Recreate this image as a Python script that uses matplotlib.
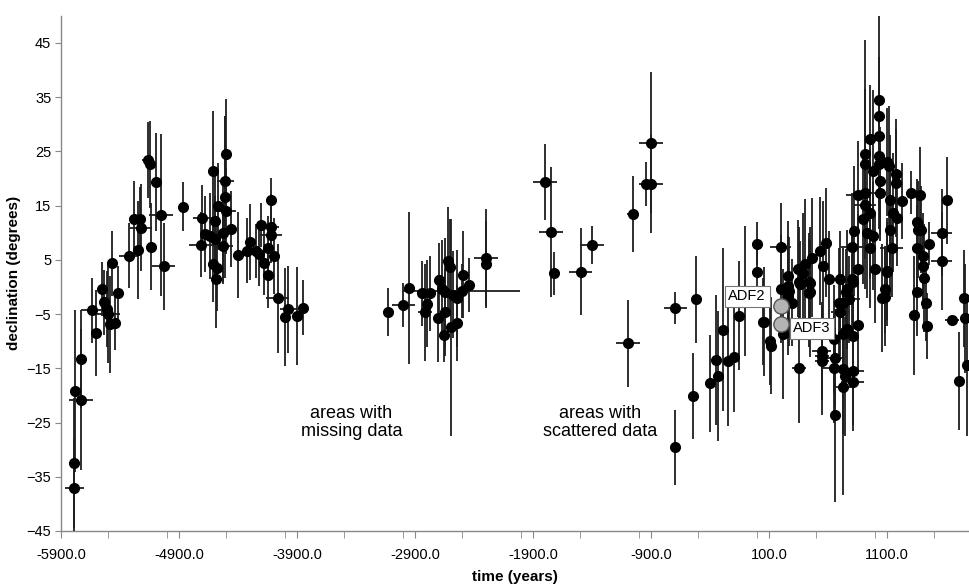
import numpy as np
import matplotlib.pyplot as plt
from matplotlib.ticker import MultipleLocator, FuncFormatter

plt.rcParams['font.family'] = ['Liberation Sans', 'DejaVu Sans']

# (year, declination, year error, declination error) per period
early_pts = [
    (-5787, -37.0, 80, 9), (-5787, -32.5, 0, 12), (-5779, -19.2, 0, 15),
    (-5730, -20.8, 100, 13), (-5730, -13.3, 0, 9), (-5640, -4.3, 90, 6),
    (-5603, -8.5, 0, 8), (-5550, -0.4, 0, 5), (-5533, -2.8, 0, 6),
    (-5510, -4.1, 0, 7), (-5499, -5.0, 100, 9), (-5485, -6.9, 0, 9),
    (-5470, 4.4, 0, 6), (-5440, -6.7, 30, 5), (-5420, -1.2, 0, 5),
    (-5321, 5.8, 85, 6), (-5284, 12.5, 0, 7), (-5233, 12.5, 40, 6),
    (-5222, 10.9, 90, 8), (-5250, 6.8, 0, 9), (-5160, 23.4, 50, 7),
    (-5148, 22.6, 0, 8), (-5097, 19.4, 0, 9), (-5053, 13.3, 100, 15),
    (-5137, 7.4, 0, 8), (-5030, 3.8, 100, 8), (-4866, 14.8, 0, 4.5),
]

neolithic_pts = [
    (-4716, 7.8, 100, 6), (-4703, 12.8, 80, 6), (-4680, 9.7, 0, 7),
    (-4637, 9.4, 0, 8), (-4609, 21.4, 0, 11), (-4595, 12.1, 0, 10),
    (-4595, 8.8, 0, 8), (-4609, 4.2, 0, 7), (-4586, 1.4, 0, 9),
    (-4580, 3.5, 60, 8), (-4567, 14.9, 0, 8), (-4525, 10.0, 0, 9),
    (-4525, 7.5, 85, 7), (-4508, 19.6, 70, 12), (-4508, 16.6, 0, 15),
    (-4502, 24.6, 0, 10), (-4502, 14.0, 85, 8), (-4462, 10.7, 0, 7),
    (-4397, 5.9, 0, 8), (-4298, 8.3, 0, 7), (-4321, 6.7, 0, 6),
    (-4250, 6.6, 0, 5), (-4222, 6.1, 0, 6), (-4205, 11.4, 0, 4),
    (-4120, 16.1, 0, 4), (-4120, 11.1, 70, 6), (-4120, 9.5, 90, 5),
    (-4148, 7.1, 0, 6), (-4092, 5.7, 0, 7), (-4177, 4.5, 0, 6),
    (-4148, 2.2, 0, 6), (-4064, -2.1, 100, 10), (-3974, -4.1, 70, 8),
    (-3999, -5.5, 0, 9), (-3903, -5.3, 0, 9), (-3847, -3.8, 0, 5),
]

bronze_pts = [
    (-3126, -4.6, 0, 4.5), (-2999, -3.3, 100, 4), (-2948, -0.2, 0, 14),
    (-2838, -1.2, 0, 6), (-2773, -1.2, 0, 7), (-2796, -3.1, 40, 8),
    (-2815, -4.7, 60, 9), (-2708, -5.8, 0, 8), (-2697, 1.2, 0, 7),
    (-2674, -0.4, 0, 9), (-2646, -1.0, 0, 10), (-2654, -8.9, 0, 5),
    (-2643, -4.7, 0, 8), (-2618, 4.7, 0, 10), (-2603, 3.6, 0, 9),
    (-2597, -7.4, 0, 20), (-2575, -1.4, 0, 8), (-2547, -6.7, 0, 7),
    (-2547, -2.1, 0, 9), (-2496, 2.3, 0, 8), (-2504, -0.7, 495, 5),
    (-2442, 0.3, 50, 5), (-2301, 5.4, 100, 9), (-2301, 4.2, 0, 8),
]

iron_pts = [
    (-1799, 19.3, 100, 7), (-1747, 10.1, 100, 12), (-1720, 2.5, 0, 4),
    (-1496, 2.8, 100, 8), (-1398, 7.7, 100, 3.5), (-1095, -10.4, 100, 8),
    (-1050, 13.5, 50, 7), (-945, 19.0, 0, 4), (-900, 19.0, 100, 9),
    (-900, 26.6, 100, 13), (-694, -3.9, 100, 3), (-694, -29.6, 0, 7),
    (-544, -20.1, 30, 8), (-519, -2.3, 0, 8), (-400, -17.8, 0, 9),
    (-346, -13.5, 30, 12), (-332, -16.4, 0, 12), (-287, -7.9, 0, 15),
    (-245, -13.6, 40, 12), (-197, -13.0, 0, 10),
]

historic_pts = [
    (-152, -5.3, 0, 10), (-104, -0.7, 0, 12), (-4, 8.0, 40, 4),
    (-4, 2.8, 40, 4), (52, -6.4, 0, 8), (58, -6.4, 40, 10),
    (108, -10.0, 0, 8), (114, -10.8, 0, 9), (199, 7.4, 90, 8),
    (199, -0.4, 0, 10), (221, -8.7, 0, 12), (264, 2.1, 0, 10),
    (264, 0.1, 0, 9), (264, -1.6, 0, 11), (271, -0.8, 0, 10),
    (292, -2.9, 0, 8), (348, 3.4, 0, 9), (350, 1.0, 0, 10),
    (357, -15.0, 60, 10), (362, 0.5, 0, 8), (390, 2.6, 0, 11),
    (405, 4.2, 0, 12), (441, 0.9, 0, 9), (441, -1.1, 0, 10),
    (448, 0.7, 0, 8), (448, -1.0, 0, 12), (462, 5.4, 0, 11),
    (532, 6.6, 0, 10), (547, -11.8, 80, 9), (547, -12.8, 60, 8),
    (547, -13.6, 60, 10), (555, 3.9, 0, 12), (580, 8.2, 0, 10),
    (611, 1.4, 0, 9), (651, -9.6, 0, 10), (651, -15.0, 90, 10),
    (657, -23.6, 0, 16), (657, -13.1, 80, 9), (696, -2.9, 0, 10),
    (702, 1.4, 80, 9), (702, -4.7, 80, 8), (724, -18.4, 80, 20),
    (724, -15.1, 0, 12), (730, -8.7, 0, 9), (730, -2.9, 0, 10),
    (744, -16.5, 0, 11), (750, -1.0, 0, 8), (758, -0.4, 0, 11),
    (760, -7.8, 60, 9), (780, -2.3, 90, 8), (800, 1.4, 60, 9),
    (806, 7.4, 100, 10), (808, 0.9, 0, 9), (809, -9.0, 0, 9),
    (809, -15.5, 100, 10), (809, -17.5, 100, 9), (820, 10.3, 0, 12),
    (851, 16.9, 100, 10), (851, 3.4, 0, 10), (851, -7.1, 0, 9),
    (899, 12.5, 0, 12), (914, 24.6, 0, 12), (914, 22.6, 0, 23),
    (914, 17.4, 100, 10), (914, 15.2, 90, 10), (928, 10.0, 0, 12),
    (956, 27.2, 0, 10), (956, 13.7, 0, 12), (956, 7.2, 0, 11),
    (984, 21.4, 0, 15), (984, 9.4, 0, 10), (998, 3.4, 0, 10),
    (1032, 34.4, 0, 17), (1032, 31.5, 0, 11), (1032, 27.9, 0, 10),
    (1032, 24.1, 0, 10), (1032, 22.7, 0, 12), (1041, 19.5, 0, 10),
    (1041, 17.4, 0, 9), (1055, -2.0, 0, 10), (1083, -0.4, 0, 8),
    (1083, -1.8, 0, 9), (1097, 23.0, 0, 10), (1097, 2.8, 0, 10),
    (1103, 3.0, 0, 9), (1114, 22.3, 0, 11), (1125, 16.1, 0, 12),
    (1125, 10.6, 0, 12), (1139, 7.2, 100, 9), (1153, 13.7, 0, 11),
    (1174, 20.9, 0, 10), (1174, 19.2, 0, 10), (1182, 12.8, 0, 9),
    (1225, 15.8, 0, 7), (1303, 17.4, 0, 4), (1331, -5.2, 0, 11),
    (1352, 12.0, 0, 8), (1352, 7.2, 0, 8), (1352, -1.0, 0, 8),
    (1365, 10.6, 0, 9), (1380, 16.9, 0, 9), (1390, 10.6, 0, 8),
    (1402, 5.7, 0, 8), (1402, 3.9, 0, 8), (1414, 1.7, 0, 10),
    (1431, -3.0, 0, 7), (1437, -7.2, 0, 6), (1456, 8.0, 30, 4),
    (1563, 10.0, 90, 8), (1563, 4.8, 90, 9), (1606, 16.0, 0, 8),
    (1653, -6.1, 60, 0), (1712, -17.3, 0, 9), (1752, -2.1, 0, 9),
    (1761, -5.8, 0, 10), (1775, -14.4, 0, 13),
]

# archaeomagnetic directions from the two studied structures
adf_names = ['ADF2', 'ADF3']
adf_years = [200, 200]
adf_decl = [-3.6, -6.9]

x_ticks = [-5900, -4900, -3900, -2900, -1900, -900, 100, 1100]
y_ticks = [-45, -35, -25, -15, -5, 5, 15, 25, 35, 45]

fig = plt.figure(figsize=(9.69, 5.88), dpi=100)
ax = fig.add_axes([0.063, 0.097, 0.937, 0.876])

for pts in (early_pts, neolithic_pts, bronze_pts, iron_pts, historic_pts):
    arr = np.array(pts, dtype=float)
    ax.errorbar(arr[:, 0], arr[:, 1], xerr=arr[:, 2], yerr=arr[:, 3],
                fmt='o', color='black', markersize=7, ecolor='#1e1e1e',
                elinewidth=1.3, capsize=0, zorder=3)

ax.plot(adf_years, adf_decl, 'o', markersize=11, markerfacecolor='#b4b4b4',
        markeredgecolor='#555555', markeredgewidth=1.0, zorder=5)
ax.text(-85, -1.7, adf_names[0], ha='center', va='center', fontsize=10.5,
        bbox=dict(boxstyle='square,pad=0.25', fc='white', ec='#777777', lw=0.8),
        zorder=6)
ax.text(464, -7.6, adf_names[1], ha='center', va='center', fontsize=10.5,
        bbox=dict(boxstyle='square,pad=0.25', fc='white', ec='#777777', lw=0.8),
        zorder=6)

ax.text(-3440, -25.0, 'areas with\nmissing data', ha='center', va='center',
        fontsize=13, linespacing=1.1)
ax.text(-1330, -25.0, 'areas with\nscattered data', ha='center', va='center',
        fontsize=13, linespacing=1.1)

ax.set_xlim(-5900, 1795)
ax.set_ylim(-45, 50)
ax.set_xticks(x_ticks)
ax.xaxis.set_minor_locator(MultipleLocator(500))
ax.xaxis.set_major_formatter(FuncFormatter(lambda v, p: f'{v:.1f}'))
ax.set_yticks(y_ticks)

for side in ('top', 'right'):
    ax.spines[side].set_visible(False)
for side in ('left', 'bottom'):
    ax.spines[side].set_color('#888888')
    ax.spines[side].set_linewidth(1.0)

ax.tick_params(axis='both', which='both', direction='out', color='#888888',
               labelsize=10.5)
ax.tick_params(axis='x', which='major', length=5, pad=7)
ax.tick_params(axis='x', which='minor', length=5)
ax.tick_params(axis='y', length=4, pad=3)

ax.set_xlabel('time (years)', fontsize=11, fontweight='bold', labelpad=6)
ax.set_ylabel('declination (degrees)', fontsize=11, fontweight='bold',
              labelpad=4)

fig.savefig('out.png', dpi=100)
